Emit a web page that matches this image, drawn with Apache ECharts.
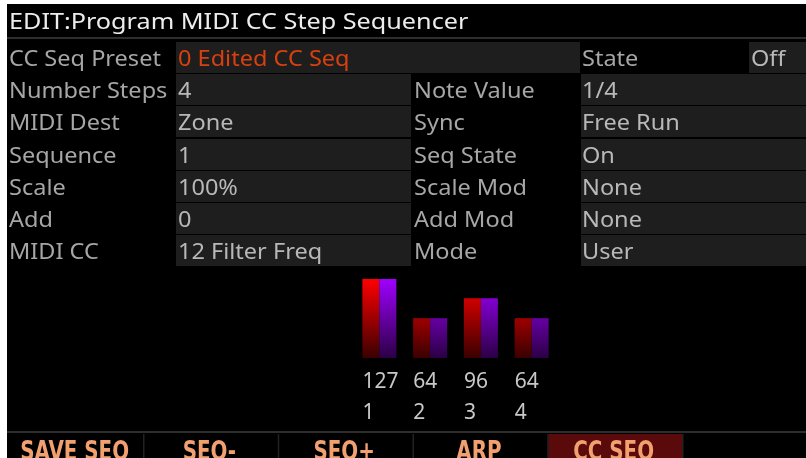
<!DOCTYPE html>
<html><head><meta charset="utf-8">
<script src="https://cdn.jsdelivr.net/npm/echarts@6/dist/echarts.min.js"></script>
<style>html,body{margin:0;padding:0;background:#fff;}#c{width:806px;height:458px;}</style>
</head><body><div id="c"></div>
<script>
const titleText = 'EDIT:Program MIDI CC Step Sequencer';
const leftLabels = ['CC Seq Preset','Number Steps','MIDI Dest','Sequence','Scale','Add','MIDI CC'];
const leftValues = ['0 Edited CC Seq','4','Zone','1','100%','0','12 Filter Freq'];
const rightLabels = ['State','Note Value','Sync','Seq State','Scale Mod','Add Mod','Mode'];
const rightValues = ['Off','1/4','Free Run','On','None','None','User'];
const steps = ['1','2','3','4'];
const stepValues = [127, 64, 96, 64];
const softKeys = ['SAVE SEQ','SEQ-','SEQ+','ARP','CC SEQ',''];
const activeKey = 4;

const FONT = '"Noto Sans", "Open Sans", sans-serif';
const BFONT = '"Liberation Sans Narrow", "DejaVu Sans Condensed", sans-serif';
const SX = 1.12;
const BOX = '#1d1e1d';
const LAB = '#a6a6a6';
const VAL = '#b8b8b8';
const g = [];
function txt(x, y, s, color, size, sx) {
  g.push({type:'text', x:x, y:y, scaleX:sx || SX, z:10,
    style:{text:s, fill:color, font:size+'px '+FONT, verticalAlign:'middle', align:'left'}});
}
function rect(x, y, w, h, c, z) {
  g.push({type:'rect', shape:{x:x, y:y, width:w, height:h}, style:{fill:c}, z:z||1});
}
// margins
rect(0, 0, 806, 4, '#ffffff', 20);
rect(0, 0, 7, 458, '#ffffff', 20);
// title
txt(9, 23, titleText, '#ededed', 21, 1.2);
rect(7, 37, 799, 2, '#2e2e2e');
const ROW0 = 42, PITCH = 32.2, RH = 31;
for (let i = 0; i < leftLabels.length; i++) {
  const y = Math.round(ROW0 + i * PITCH);
  const cy = y + RH / 2 + 3;
  txt(9, cy, leftLabels[i], LAB, 21);
  if (i === 0) {
    rect(176, y, 404, RH, BOX);
    txt(178, cy, leftValues[i], '#d8400f', 21);
    txt(582, cy, rightLabels[i], LAB, 21);
    rect(749, y, 57, RH, BOX);
    txt(751, cy, rightValues[i], VAL, 21);
  } else {
    rect(176, y, 235, RH, BOX);
    txt(178, cy, leftValues[i], VAL, 21);
    txt(414, cy, rightLabels[i], LAB, 21);
    rect(581, y, 225, RH, BOX);
    txt(582, cy, rightValues[i], VAL, 21);
  }
}
// soft keys
rect(7, 431, 799, 2, '#2e2e2e');
const KW = 134.75, K0 = 9.25;
for (let k = 0; k < softKeys.length; k++) {
  const x0 = K0 + k * KW;
  if (k === activeKey) rect(x0, 434, KW, 24, '#5a0a0a', 2);
  if (k > 0) rect(x0 - 1, 434, 1.5, 24, '#222222', 3);
  if (softKeys[k]) g.push({type:'text', x:x0 + KW / 2 - 2, y:440, z:10, scaleX:0.85,
    style:{text:softKeys[k], fill:'#f2a070', font:'bold 26px '+BFONT, align:'center', verticalAlign:'top'}});
}

const chart = echarts.init(document.getElementById('c'));
chart.setOption({
  backgroundColor:'#000',
  animation:false,
  graphic:g,
  grid:{left:354, top:279, width:203, height:79},
  xAxis:{type:'category', data:steps, axisLine:{show:false}, axisTick:{show:false},
    axisLabel:{interval:0, margin:9, align:'left', padding:[0,0,0,-17], color:'#c8c8c8', fontSize:21, lineHeight:31, fontFamily:FONT,
      formatter:(v, i) => stepValues[i] + '\n' + v}},
  yAxis:{type:'value', min:0, max:127, show:false, splitLine:{show:false}},
  series:[
    {type:'bar', data:stepValues, barWidth:17, barGap:'0%',
      itemStyle:{color:{type:'linear', x:0, y:279, x2:0, y2:358, global:true,
        colorStops:[{offset:0, color:'#ff0000'}, {offset:1, color:'#3a0000'}]}}},
    {type:'bar', data:stepValues, barWidth:17, barGap:'0%',
      itemStyle:{color:{type:'linear', x:0, y:279, x2:0, y2:358, global:true,
        colorStops:[{offset:0, color:'#a000ff'}, {offset:1, color:'#2a0045'}]}}}
  ]
});
</script></body></html>
